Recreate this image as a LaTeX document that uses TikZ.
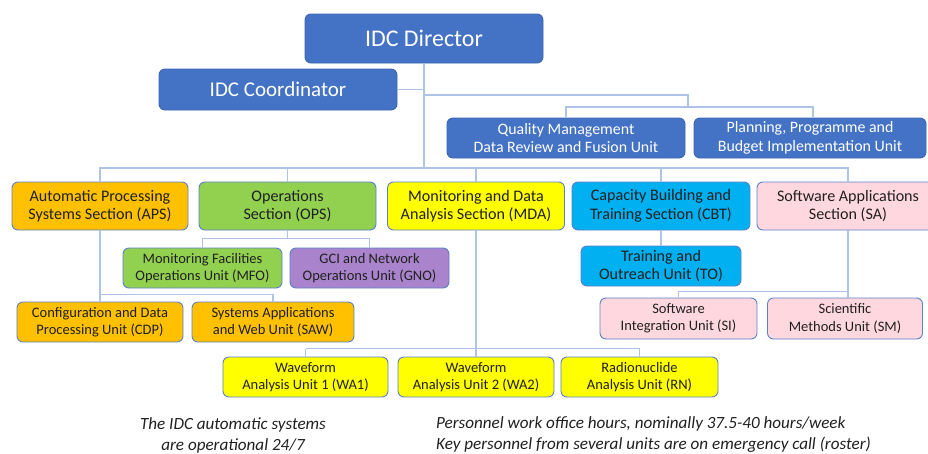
\documentclass[tikz,border=0pt]{standalone}
\usepackage{fontspec}
\setmainfont{Carlito}
\usetikzlibrary{calc}

\definecolor{idcblue}{HTML}{4472C4}
\definecolor{idcedge}{HTML}{3A64B2}
\definecolor{unitedge}{HTML}{5C80C6}
\definecolor{wire}{HTML}{AFC3E6}
\definecolor{aps}{HTML}{FFC000}
\definecolor{ops}{HTML}{92D050}
\definecolor{mda}{HTML}{FFFF00}
\definecolor{cbt}{HTML}{00B0F0}
\definecolor{sa}{HTML}{FFD8DF}
\definecolor{gno}{HTML}{A983CB}
\definecolor{ink}{HTML}{202020}

\tikzset{
  orgbox/.style={draw=unitedge, line width=0.9pt, rounded corners=6pt,
    align=center, inner sep=0pt, text=ink},
  head/.style={orgbox, fill=idcblue, draw=idcedge, text=white},
  section/.style={orgbox, font=\fontsize{16.1}{18.5}\selectfont},
  unit/.style={orgbox, font=\fontsize{14.5}{17.5}\selectfont},
  wires/.style={draw=wire, line width=1.1pt},
  note/.style={font=\fontsize{17.1}{21}\selectfont\itshape, text=ink, inner sep=0pt}
}

\begin{document}
\begin{tikzpicture}[x=1pt, y=-1pt]
\useasboundingbox (0,0) rectangle (928,453);
\clip (0,0) rectangle (928,453);

% management
\node[head, minimum width=238pt, minimum height=49pt, font=\fontsize{23.9}{27}\selectfont]
  (dir) at (424,38.5) {IDC Director};
\node[head, minimum width=238pt, minimum height=41pt, font=\fontsize{21}{24}\selectfont]
  (coord) at (278,89.5) {IDC Coordinator};
\node[head, minimum width=238pt, minimum height=40pt, font=\fontsize{15.9}{18.5}\selectfont]
  (qm) at (566,138) {Quality Management\\Data Review and Fusion Unit};
\node[head, minimum width=232pt, minimum height=40pt, font=\fontsize{15.9}{18.5}\selectfont]
  (ppb) at (810,138) {Planning, Programme and\\Budget Implementation Unit};

% sections
\node[section, fill=aps, minimum width=176pt, minimum height=48pt]
  (aps) at (100,206) {Automatic Processing\\Systems Section (APS)};
\node[section, fill=ops, minimum width=177pt, minimum height=48pt]
  (ops) at (287.5,206) {Operations\\Section (OPS)};
\node[section, fill=mda, minimum width=177pt, minimum height=48pt]
  (mda) at (476,206) {Monitoring and Data\\Analysis Section (MDA)};
\node[section, fill=cbt, minimum width=178pt, minimum height=48pt]
  (cbt) at (661,206) {Capacity Building and\\Training Section (CBT)};
\node[section, fill=sa, minimum width=182pt, minimum height=48pt]
  (sa) at (848,206) {Software Applications\\Section (SA)};

% units
\node[unit, fill=ops, minimum width=159pt, minimum height=40pt]
  (mfo) at (202.5,268) {Monitoring Facilities\\Operations Unit (MFO)};
\node[unit, fill=gno, minimum width=159pt, minimum height=40pt]
  (gnou) at (369.5,268) {GCI and Network\\Operations Unit (GNO)};
\node[section, fill=cbt, minimum width=160pt, minimum height=40pt]
  (to) at (661,266) {Training and\\Outreach Unit (TO)};
\node[unit, fill=aps, minimum width=166pt, minimum height=40pt]
  (cdp) at (100,322) {Configuration and Data\\Processing Unit (CDP)};
\node[unit, fill=aps, minimum width=162pt, minimum height=40pt]
  (saw) at (273,322) {Systems Applications\\and Web Unit (SAW)};
\node[unit, fill=sa, minimum width=157pt, minimum height=41pt]
  (si) at (678.5,318.5) {Software\\Integration Unit (SI)};
\node[unit, fill=sa, minimum width=155pt, minimum height=41pt]
  (sm) at (845,318.5) {Scientific\\Methods Unit (SM)};
\node[unit, fill=mda, minimum width=165pt, minimum height=40pt]
  (wa1) at (305.5,377) {Waveform\\Analysis Unit 1 (WA1)};
\node[unit, fill=mda, minimum width=156pt, minimum height=40pt]
  (wa2) at (476,377) {Waveform\\Analysis Unit 2 (WA2)};
\node[unit, fill=mda, minimum width=157pt, minimum height=40pt]
  (rn) at (639.5,377) {Radionuclide\\Analysis Unit (RN)};

% bus junctions
\coordinate (trunk) at (424,168);
\coordinate (staff) at (688,95);
\coordinate (stafbus) at (688,107);
\coordinate (ppbtop) at (813,118);

\path[wires]
  (dir.south) -- (trunk)
  (coord.east) -- (coord.east -| dir.south)
  (dir.south |- staff) -- (staff) -- (stafbus)
  (qm.north) -- (qm.north |- stafbus) -- (ppbtop |- stafbus) -- (ppbtop)
  (aps.north) -- (aps.north |- trunk) -- (sa.north |- trunk) -- (sa.north)
  (ops.north) -- (ops.north |- trunk)
  (mda.north) -- (mda.north |- trunk)
  (cbt.north) -- (cbt.north |- trunk)
  % OPS units
  (ops.south) -- ($(ops.south)+(0,8)$)
  (mfo.north) -- ($(mfo.north |- ops.south)+(0,8)$) -- ($(gnou.north |- ops.south)+(0,8)$) -- (gnou.north)
  % CBT unit
  (cbt.south) -- (to.north)
  % APS units
  (aps.south) -- (cdp.north)
  ($(cdp.north)+(0,-7)$) -- ($(saw.north)+(0,-7)$) -- (saw.north)
  % SA units
  (sa.south) -- (sa.south |- sm.north)
  ($(sa.south |- si.north)+(0,-6)$) -- ($(si.north)+(0,-6)$) -- (si.north)
  % MDA units
  (mda.south) -- (wa2.north)
  ($(wa1.north)+(0,-8)$) -- ($(rn.north)+(0,-8)$) -- (rn.north)
  ($(wa1.north)+(0,-8)$) -- (wa1.north);

% notes
\node[note, align=center] (n1) at (233,435) {The IDC automatic systems\\are operational 24/7};
\node[note, align=left, anchor=west] (n2) at (436,435)
  {Personnel work office hours, nominally 37.5-40 hours/week\\Key personnel from several units are on emergency call (roster)};
\end{tikzpicture}
\end{document}
